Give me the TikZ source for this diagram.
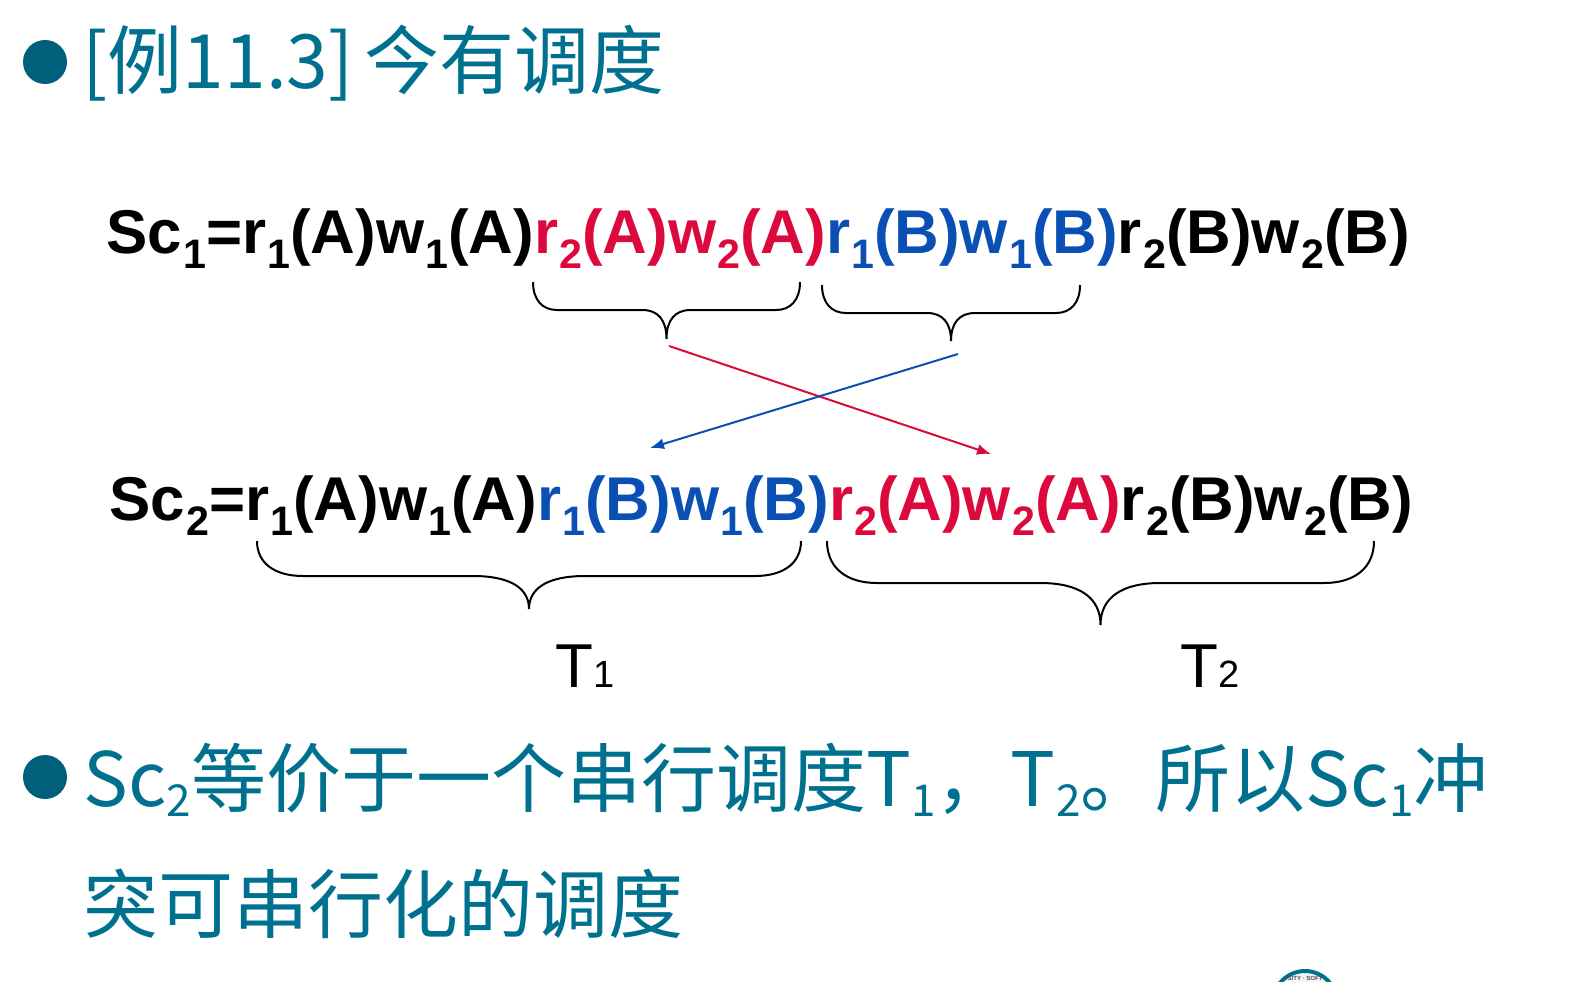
\documentclass[tikz,border=0pt]{standalone}
\usepackage{fontspec}
\setmainfont{Liberation Sans}
\newfontfamily\cjk{Noto Sans CJK SC}
\usetikzlibrary{arrows.meta}
\definecolor{tealtext}{HTML}{00708F}
\definecolor{tealdot}{HTML}{005F7A}
\definecolor{redop}{HTML}{DC0A3C}
\definecolor{blueop}{HTML}{0A50B4}
\newcommand{\lowidx}[1]{\kern0.6pt\raisebox{-7.5pt}{\fontsize{20.6}{22}\selectfont #1}}
\newcommand{\tealidx}[1]{\kern0.2pt\raisebox{-5pt}{\fontsize{22}{24}\selectfont #1}}
\newcommand{\opr}[2]{r\lowidx{#1}(#2)w\lowidx{#1}(#2)}
% left, right, top, flat, tip, outer bend, inner bend
\newcommand{\curlybrace}[7]{%
  \pgfmathsetmacro\xmid{(#1+#2)/2}
  \draw[curly] (#1,#3) .. controls (#1,#3+0.65*#4-0.65*#3) and (#1+0.4*#6,#4) .. (#1+#6,#4)
    -- (\xmid-#7,#4) .. controls (\xmid-0.35*#7,#4) and (\xmid,#4+0.35*#5-0.35*#4) .. (\xmid,#5)
    .. controls (\xmid,#4+0.35*#5-0.35*#4) and (\xmid+0.35*#7,#4) .. (\xmid+#7,#4)
    -- (#2-#6,#4) .. controls (#2-0.4*#6,#4) and (#2,#3+0.65*#4-0.65*#3) .. (#2,#3);
}
\tikzset{
  schedule/.style={anchor=base west,inner sep=0pt,font=\fontsize{30.9}{33}\selectfont\bfseries},
  tealline/.style={anchor=base west,inner sep=0pt,text=tealtext,font=\fontsize{37.5}{40}\selectfont\cjk},
  txn/.style={anchor=base west,inner sep=0pt,font=\fontsize{31}{34}\selectfont},
  bullet/.style={circle,fill=tealdot,inner sep=0pt,minimum size=22pt},
  curly/.style={line width=1pt},
  cross/.style={-{Latex[length=7pt,width=5.5pt]},line width=1pt}
}
\begin{document}
\begin{tikzpicture}[x=0.5pt,y=-0.5pt]
\useasboundingbox (0,0) rectangle (1573,981);

% title line
\node[bullet] (dotA) at (45,62) {};
\node[tealline] (title) at (82,88) {[例11.3]\kern-3pt{} 今有调度};

% the two schedules
\node[schedule] (scA) at (106,253) {Sc\lowidx{1}=\opr{1}{A}\textcolor{redop}{\opr{2}{A}}\textcolor{blueop}{\opr{1}{B}}\opr{2}{B}};
\node[schedule] (scB) at (109,520) {Sc\lowidx{2}=\opr{1}{A}\textcolor{blueop}{\opr{1}{B}}\textcolor{redop}{\opr{2}{A}}\opr{2}{B}};

% braces
\curlybrace{533}{800}{282}{310}{339}{24}{24}
\curlybrace{822}{1080}{285}{313}{341}{24}{24}
\curlybrace{257}{801}{541}{576}{609}{46}{56}
\curlybrace{827}{1374}{541}{583}{625}{50}{60}

% crossing arrows
\coordinate (redS) at (669,346);
\coordinate (redE) at (991,454);
\coordinate (blueS) at (958,354);
\coordinate (blueE) at (650,448);
\draw[cross,redop] (redS) -- (redE);
\draw[cross,blueop] (blueS) -- (blueE);

\node[txn] (tA) at (555,687) {T{\fontsize{19}{20}\selectfont 1}};
\node[txn] (tB) at (1180,687) {T{\fontsize{19}{20}\selectfont 2}};

% conclusion
\node[bullet] (dotB) at (45,777) {};
\node[tealline] (lineA) at (83,806) {Sc\tealidx{2}等价于一个串行调度T\tealidx{1}，T\tealidx{2}。所以Sc\tealidx{1}冲};
\node[tealline] (lineB) at (83,932) {突可串行化的调度};

% corner of the seal
\node[circle,draw=tealtext,line width=2pt,fill=black!4,minimum size=32pt,inner sep=0pt] (seal) at (1305,1003) {};
\node[inner sep=0pt,font=\fontsize{3}{3}\selectfont\bfseries,text=black!70] (sealtext) at (1305,978) {SITY · SOFT};
\end{tikzpicture}
\end{document}
